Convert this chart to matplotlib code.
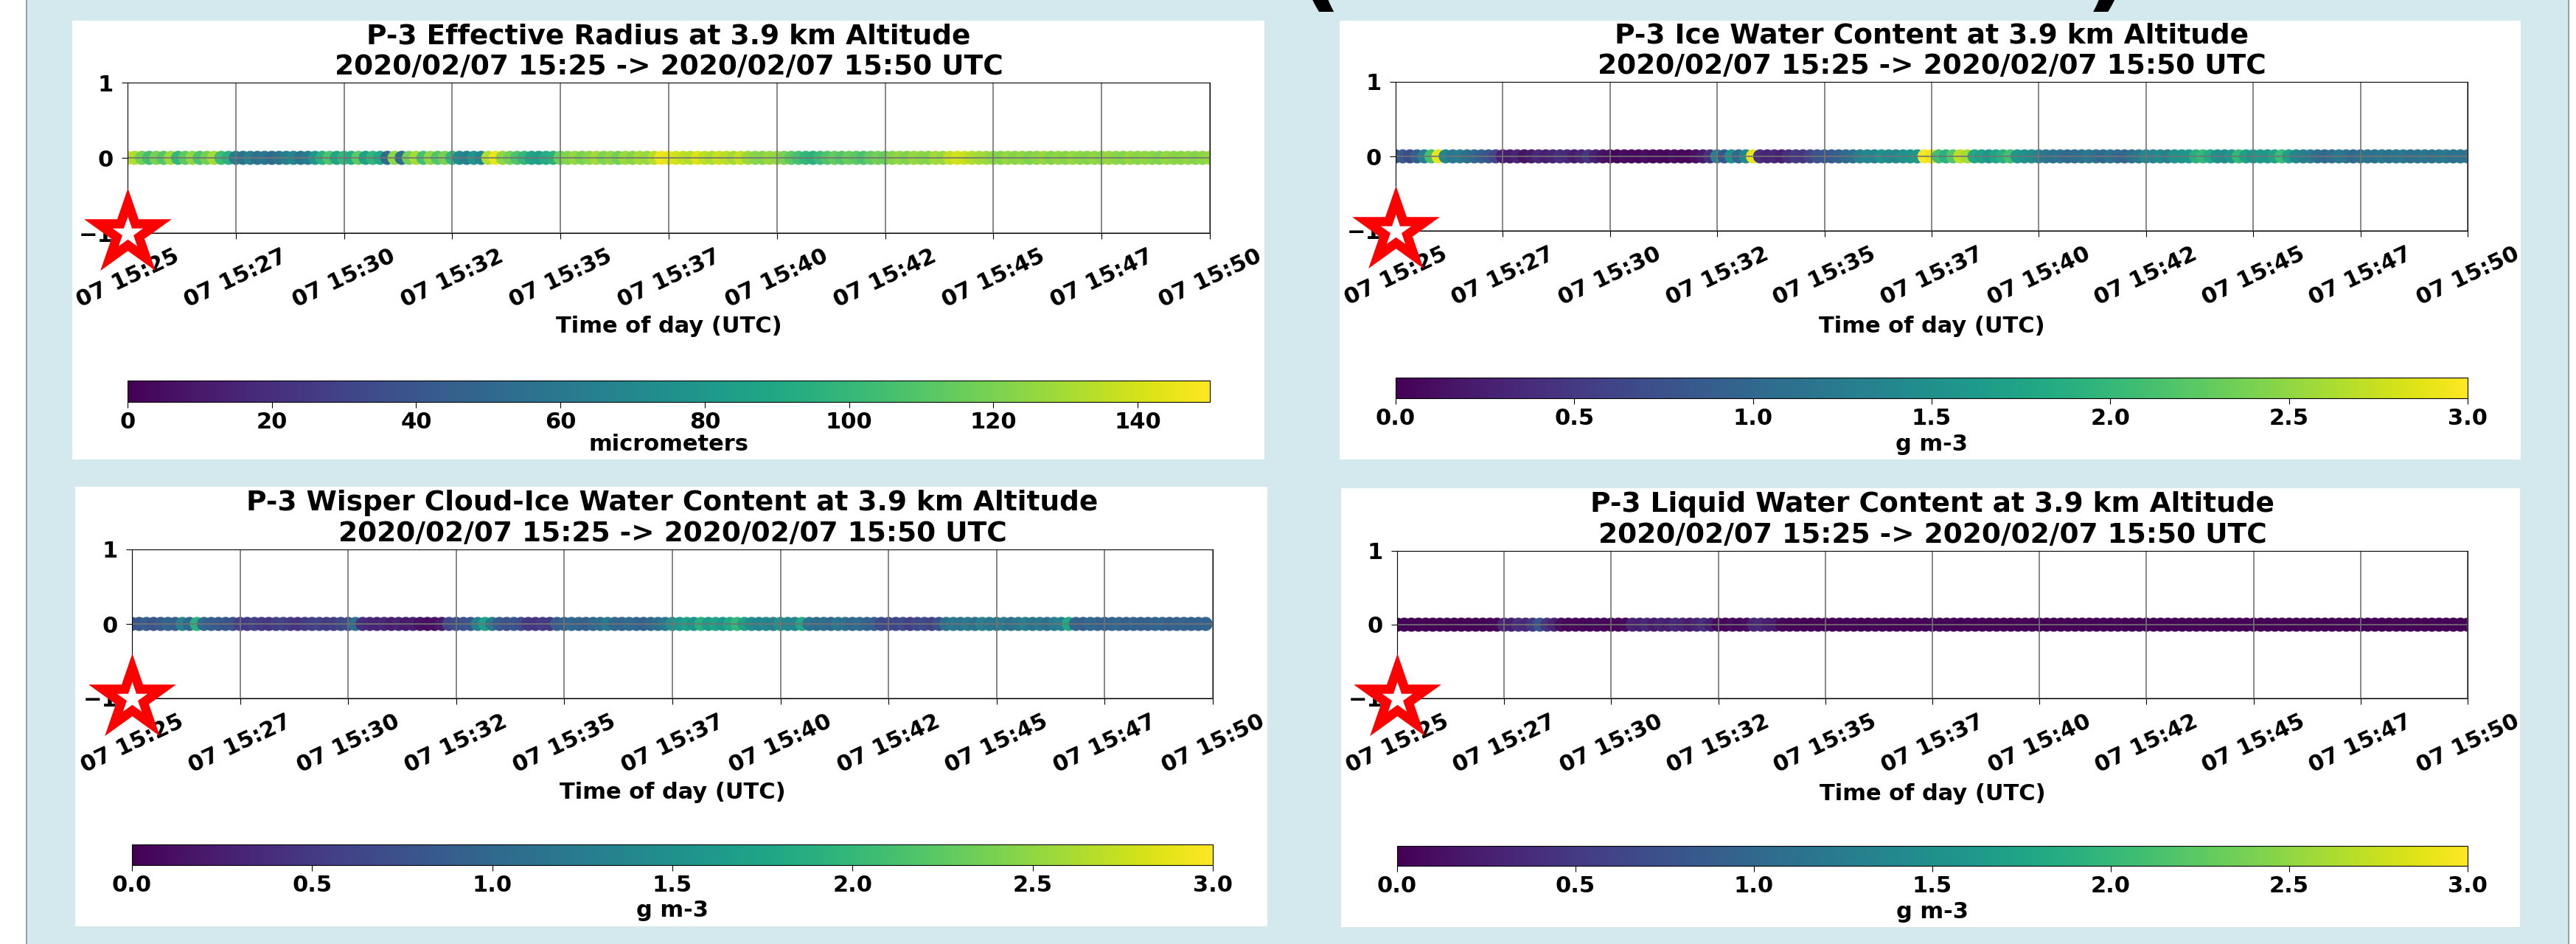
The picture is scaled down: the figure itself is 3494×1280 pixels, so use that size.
import numpy as np
import pandas as pd
import matplotlib
matplotlib.use('Agg')
import matplotlib.pyplot as plt
import matplotlib.dates as mdates
from matplotlib.patches import Rectangle
from matplotlib.markers import MarkerStyle

plt.rcParams['font.family'] = ['DejaVu Sans']
plt.rcParams['font.weight'] = 'bold'
plt.rcParams['axes.titleweight'] = 'bold'
plt.rcParams['axes.labelweight'] = 'bold'

# time window and sampling of the flight leg
start = pd.Timestamp('2020-02-07 15:25:00')
end = pd.Timestamp('2020-02-07 15:50:00')
step_s = 10

# effective radius (micrometers), one value per 10 s
reff = [140, 132, 118,
        105, 120, 110, 128, 100, 112, 125, 108, 118, 130, 104, 96,
        62, 58, 66, 55, 60, 52, 57, 64, 70, 58, 62, 80,
        95, 108, 88, 100, 92, 112, 85, 98, 90,
        52, 125, 55,
        118, 130, 105, 125, 110, 120, 100,
        72, 65, 78, 70,
        132, 145, 125, 118, 108, 100,
        88, 84, 92, 96,
        116, 122, 126, 119, 124, 129, 121, 125, 118, 128, 123, 130, 126, 134,
        146, 144,
        140, 136, 133, 142, 135, 131, 138, 134, 130, 137,
        128, 124, 122, 127, 125, 120,
        112, 106, 100, 96, 102, 108, 114, 110, 116, 112, 107, 114, 118, 115,
        122, 125, 121, 127, 124, 123, 129, 126, 136, 140, 138, 133, 130, 128,
        124, 122, 126, 123, 125, 121, 124, 127, 122, 125, 123, 126, 124, 122,
        125, 123, 127, 124, 122, 126, 123, 125, 124, 121, 126, 124, 123, 125,
        122, 124, 126]

# ice water content (g m-3)
iwc = [0.75, 0.85, 0.7, 0.9, 1.3,
       2.1, 2.9,
       1.4, 1.2, 1.25, 1.1, 1.0, 0.9, 0.8, 0.6,
       0.25, 0.2, 0.3, 0.15, 0.2, 0.35, 0.25, 0.3, 0.4, 0.35, 0.2, 0.3, 0.45, 0.25, 0.15,
       0.1, 0.05, 0.1, 0.08, 0.05, 0.1, 0.06, 0.08, 0.05, 0.1, 0.07, 0.05, 0.12, 0.2, 0.4,
       1.3, 0.8, 1.5, 1.0, 1.4,
       2.9,
       0.4, 0.3, 0.35, 0.25, 0.4, 0.5, 0.45, 0.6,
       0.75, 0.8, 0.85, 0.9, 1.0, 1.1,
       1.3, 1.4, 1.35, 1.5, 1.45, 1.4, 1.5, 1.55, 1.6,
       3.0, 2.9,
       2.1, 1.9, 2.2,
       2.7, 2.6,
       1.8, 1.7, 1.6, 1.75, 1.9,
       2.1,
       1.6, 1.5, 1.45, 1.3,
       1.2, 1.1, 1.15, 1.0, 1.05, 1.1, 1.2, 1.1, 1.0, 1.15, 1.05, 0.95, 1.1, 1.2,
       1.4, 1.35, 1.45, 1.3, 1.5, 1.55, 1.6,
       1.9, 2.0, 1.8,
       1.5, 1.45,
       1.6, 2.0, 1.7, 1.55, 1.65, 1.6, 1.75, 2.05, 1.7,
       1.4, 1.3, 1.25, 1.1, 1.0, 1.05, 1.2, 1.15, 1.0, 1.1,
       1.15, 1.1, 1.2, 1.1, 1.15, 1.2, 1.1, 1.12, 1.18, 1.1, 1.15, 1.2, 1.1, 1.15, 1.12]

# wisper cloud-ice water content (g m-3)
wisper = [0.85, 0.8, 0.9, 0.75, 0.85, 0.95, 0.9, 1.3,
          1.0,
          1.9,
          1.0, 0.9, 0.85, 0.8, 0.75,
          0.55, 0.5, 0.6, 0.5, 0.45, 0.55, 0.6, 0.5, 0.45, 0.5, 0.55, 0.6, 0.5, 0.55, 0.6, 0.7,
          1.1,
          0.4, 0.35, 0.3, 0.35, 0.25, 0.3, 0.2, 0.25, 0.15, 0.1, 0.12, 0.2,
          0.6, 0.7, 0.75, 0.8,
          1.3, 1.7, 1.2,
          0.85, 0.75, 0.8, 0.7,
          0.5, 0.45, 0.55, 0.5,
          0.85, 0.9, 1.0, 0.95, 0.9, 1.0, 1.05, 1.25,
          1.0, 0.95, 1.05, 1.0, 0.9, 1.0, 1.1, 1.2,
          1.5, 1.6, 1.7, 1.55, 1.9, 1.65, 1.75, 1.6, 1.8, 2.0, 1.7,
          1.45, 1.35, 1.4, 1.3, 1.5, 1.4, 1.35, 1.8,
          1.15, 1.05, 1.1, 1.0, 1.2, 1.1, 1.0, 1.05, 0.95, 0.9,
          0.7, 0.65, 0.6, 0.7, 0.55, 0.65, 0.7, 0.6, 0.75,
          1.1, 1.2, 1.15, 1.25, 1.1, 1.3, 1.2, 1.15, 1.25, 1.1, 1.2, 1.3, 1.15, 1.2, 1.1, 1.25, 1.3, 1.8,
          0.95, 0.9, 1.0, 0.95, 0.9, 0.95, 1.0, 0.9, 0.95, 0.92, 0.9, 0.95, 0.98, 0.9, 0.92, 0.95,
          0.9, 0.93, 0.95]

# liquid water content (g m-3)
lwc = [0.02, 0.03, 0.02, 0.02, 0.03, 0.02, 0.02, 0.03, 0.02, 0.02, 0.03, 0.02, 0.02, 0.03, 0.05,
       0.3, 0.25, 0.4, 0.35, 0.5, 0.8, 0.45, 0.3,
       0.1, 0.05, 0.08, 0.05, 0.04, 0.06, 0.05, 0.04, 0.05, 0.08,
       0.3, 0.25, 0.35, 0.2, 0.3, 0.25, 0.35, 0.3, 0.2, 0.3, 0.4, 0.25,
       0.08, 0.05, 0.1, 0.06, 0.1,
       0.3, 0.35, 0.25, 0.2,
       0.05, 0.03, 0.02, 0.03, 0.02, 0.04, 0.03, 0.02, 0.03, 0.02,
       0.03, 0.02, 0.02, 0.04, 0.03, 0.02, 0.03, 0.02, 0.02, 0.03,
       0.02, 0.03, 0.05, 0.04, 0.03, 0.02, 0.03, 0.02, 0.03, 0.02,
       0.02, 0.03, 0.02, 0.03, 0.04, 0.03, 0.02, 0.02, 0.03, 0.02,
       0.03, 0.02, 0.02, 0.03, 0.02, 0.03, 0.02, 0.04, 0.03, 0.02,
       0.02, 0.03, 0.02, 0.02, 0.03, 0.02, 0.03, 0.02, 0.02, 0.03,
       0.02, 0.03, 0.02, 0.03, 0.02, 0.02, 0.03, 0.02, 0.03, 0.02,
       0.03, 0.02, 0.02, 0.03, 0.02, 0.03, 0.02, 0.02, 0.03, 0.02,
       0.02, 0.03, 0.02, 0.03, 0.02, 0.02, 0.03, 0.02, 0.03, 0.02,
       0.03, 0.02, 0.02, 0.03, 0.02, 0.03, 0.02]

subtitle = '2020/02/07 15:25 -> 2020/02/07 15:50 UTC'
titles = ['P-3 Effective Radius at 3.9 km Altitude',
          'P-3 Ice Water Content at 3.9 km Altitude',
          'P-3 Wisper Cloud-Ice Water Content at 3.9 km Altitude',
          'P-3 Liquid Water Content at 3.9 km Altitude']
units = ['micrometers', 'g m-3', 'g m-3', 'g m-3']
vmaxes = [150, 3.0, 3.0, 3.0]
cticks = [[0, 20, 40, 60, 80, 100, 120, 140],
          [0.0, 0.5, 1.0, 1.5, 2.0, 2.5, 3.0],
          [0.0, 0.5, 1.0, 1.5, 2.0, 2.5, 3.0],
          [0.0, 0.5, 1.0, 1.5, 2.0, 2.5, 3.0]]
series = [reff, iwc, wisper, lwc]

W, H = 3494, 1280
fig = plt.figure(figsize=(W / 100, H / 100), dpi=100, facecolor='#d4e9ed')


def fbox(x0, y0, x1, y1):
    # pixel box (from top left) -> figure fraction [l, b, w, h]
    return [x0 / W, 1 - y1 / H, (x1 - x0) / W, (y1 - y0) / H]


def frect(x0, y0, x1, y1, color):
    l, b, w, h = fbox(x0, y0, x1, y1)
    fig.add_artist(Rectangle((l, b), w, h, transform=fig.transFigure,
                             facecolor=color, edgecolor='none', zorder=-5))


# page edges
frect(0, 0, 35, H, 'white')
frect(35, 0, 37, H, '#8ea5a8')
frect(3483, 0, 3485, H, '#8ea5a8')
frect(3485, 0, W, H, 'white')
# bottoms of a larger heading above this crop
fig.text(1788 / W, 1 + 2 / H, '(', fontsize=100, fontweight='bold', ha='center', va='baseline')
fig.text(2860 / W, 1 + 2 / H, ')', fontsize=100, fontweight='bold', ha='center', va='baseline')

# panel layout in pixels: white box, axes, colorbar
boxes = [(98, 28, 1715, 623), (1817, 28, 3419, 623),
         (102, 660, 1719, 1256), (1819, 662, 3418, 1257)]
axboxes = [(173, 112, 1641, 316), (1893, 111, 3347, 313),
           (179, 745, 1645, 947), (1895, 747, 3347, 947)]
cbboxes = [(173, 516, 1641, 545), (1893, 512, 3347, 540),
           (179, 1145, 1645, 1173), (1895, 1147, 3347, 1174)]

xticks = pd.date_range(start, end, freq='150s')
star = MarkerStyle('*', joinstyle='miter')

for k in range(4):
    vals = series[k]
    times = start + pd.to_timedelta(np.arange(len(vals)) * step_s, unit='s')
    frect(*boxes[k], 'white')

    ax = fig.add_axes(fbox(*axboxes[k]))
    sc = ax.scatter(times, np.zeros(len(vals)), c=vals, cmap='viridis',
                    vmin=0, vmax=vmaxes[k], s=190, linewidths=0)
    ax.set_xlim(start, end)
    ax.set_ylim(-1, 1)
    ax.set_yticks([-1, 0, 1])
    ax.set_xticks(xticks)
    ax.xaxis.set_major_formatter(mdates.DateFormatter('%d %H:%M'))
    ax.tick_params(axis='both', labelsize=22, length=6, pad=8)
    ax.tick_params(axis='x', labelrotation=25, pad=6)
    ax.grid(True, color='0.45', linewidth=1.2)
    ax.plot([start], [-1], marker=star, ms=61, mfc='white', mec='red', mew=9,
            clip_on=False, zorder=10)
    ax.set_title(titles[k] + '\n' + subtitle, fontsize=27, pad=8)
    ax.set_xlabel('Time of day (UTC)', fontsize=22)
    axh = axboxes[k][3] - axboxes[k][1]
    ax.xaxis.set_label_coords(0.5, -(boxes[k][1] + 400 - axboxes[k][3]) / axh)

    cax = fig.add_axes(fbox(*cbboxes[k]))
    cb = fig.colorbar(sc, cax=cax, orientation='horizontal', ticks=cticks[k])
    cb.ax.tick_params(labelsize=22, length=6)
    cb.set_label(units[k], fontsize=22)
    cbh = cbboxes[k][3] - cbboxes[k][1]
    cax.xaxis.set_label_coords(0.5, -(boxes[k][1] + 560 - cbboxes[k][3]) / cbh)

fig.savefig('out.png', dpi=100, facecolor=fig.get_facecolor())
